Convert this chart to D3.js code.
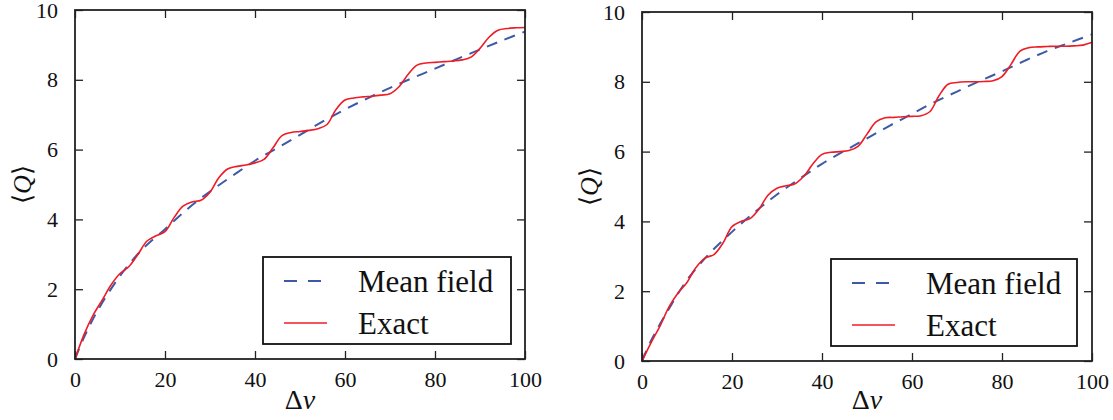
<!DOCTYPE html>
<html>
<head>
<meta charset="utf-8">
<script src="https://cdn.jsdelivr.net/npm/d3@7"></script>
<style>
  body { margin: 0; background: #fff; }
  svg { display: block; }
</style>
</head>
<body>
<div id="chart"></div>
<script>
const width = 1113;
const height = 420;
const serif = "'Liberation Serif', 'Times New Roman', serif";

// shared x grid for both panels
const dv = d3.range(0, 101, 2);

// mean field curve
const meanX = [0, 2, 5, 10, 15, 20, 25, 30, 35, 40, 45, 50, 55, 60, 65, 70, 75, 80, 85, 90, 95, 100];
const meanLeft = [0, 0.62, 1.38, 2.38, 3.15, 3.72, 4.3, 4.8, 5.25, 5.68, 6.05, 6.42, 6.8, 7.15, 7.47, 7.77, 8.05, 8.32, 8.6, 8.87, 9.13, 9.38];
const meanRight = [0, 0.58, 1.28, 2.32, 3.08, 3.7, 4.26, 4.77, 5.22, 5.65, 6.02, 6.38, 6.74, 7.08, 7.42, 7.72, 8.02, 8.3, 8.6, 8.88, 9.12, 9.36];

// exact curves, sampled at dv
const exactLeft = [0, 0.7, 1.25, 1.68, 2.12, 2.45, 2.65, 3.0, 3.38, 3.53, 3.65, 4.05, 4.38, 4.5, 4.55, 4.78, 5.2, 5.45, 5.52, 5.56, 5.62, 5.72, 6.05, 6.4, 6.49, 6.52, 6.55, 6.6, 6.72, 7.15, 7.42, 7.48, 7.51, 7.53, 7.56, 7.6, 7.8, 8.15, 8.42, 8.48, 8.5, 8.52, 8.54, 8.57, 8.65, 8.9, 9.22, 9.42, 9.47, 9.49, 9.5];
const exactRight = [0, 0.52, 1.0, 1.55, 1.95, 2.25, 2.68, 2.95, 3.05, 3.38, 3.85, 4.0, 4.08, 4.35, 4.75, 4.95, 5.02, 5.08, 5.3, 5.65, 5.92, 5.98, 6.0, 6.03, 6.15, 6.5, 6.85, 6.97, 6.98, 7.0, 7.01, 7.03, 7.15, 7.6, 7.93, 7.98, 8.0, 8.0, 8.01, 8.03, 8.15, 8.5, 8.88, 8.98, 9.0, 9.01, 9.02, 9.02, 9.03, 9.05, 9.13];

const xTicks = [0, 20, 40, 60, 80, 100];
const yTicks = [0, 2, 4, 6, 8, 10];
const legendLabels = ["Mean field", "Exact"];

const blue = "#3d5aa8";
const red = "#ee1c25";

const panels = [
    { left: 75, right: 525, top: 10, bottom: 359, mean: meanLeft, exact: exactLeft, ylab: 22, legend: { x: 263, y: 257, w: 248, h: 87 } },
    { left: 642, right: 1092, top: 12, bottom: 361, mean: meanRight, exact: exactRight, ylab: 589, legend: { x: 831, y: 259, w: 246, h: 87 } }
];

const svg = d3.select("#chart")
    .append("svg")
    .attr("width", width)
    .attr("height", height);

panels.forEach(p => {
    const x = d3.scaleLinear().domain([0, 100]).range([p.left, p.right]);
    const y = d3.scaleLinear().domain([0, 10]).range([p.bottom, p.top]);
    const g = svg.append("g");

    const line = d3.line()
        .x(d => x(d[0]))
        .y(d => y(d[1]))
        .curve(d3.curveCatmullRom.alpha(0.5));

    g.append("path")
        .datum(meanX.map((v, i) => [v, p.mean[i]]))
        .attr("d", line)
        .attr("fill", "none")
        .attr("stroke", blue)
        .attr("stroke-width", 2)
        .attr("stroke-dasharray", "11,8");

    g.append("path")
        .datum(dv.map((v, i) => [v, p.exact[i]]))
        .attr("d", line)
        .attr("fill", "none")
        .attr("stroke", red)
        .attr("stroke-width", 1.6);

    // ticks pointing inward on all four sides
    const tl = 8;
    g.append("g")
        .attr("transform", `translate(0,${p.bottom})`)
        .call(d3.axisBottom(x).tickValues(xTicks).tickSizeInner(-tl).tickSizeOuter(0).tickPadding(12))
        .call(a => a.select(".domain").remove());
    g.append("g")
        .attr("transform", `translate(0,${p.top})`)
        .call(d3.axisTop(x).tickValues(xTicks).tickSizeInner(-tl).tickSizeOuter(0).tickFormat(""))
        .call(a => a.select(".domain").remove());
    g.append("g")
        .attr("transform", `translate(${p.left},0)`)
        .call(d3.axisLeft(y).tickValues(yTicks).tickSizeInner(-tl).tickSizeOuter(0).tickPadding(17))
        .call(a => a.select(".domain").remove());
    g.append("g")
        .attr("transform", `translate(${p.right},0)`)
        .call(d3.axisRight(y).tickValues(yTicks).tickSizeInner(-tl).tickSizeOuter(0).tickFormat(""))
        .call(a => a.select(".domain").remove());

    g.selectAll(".tick line").attr("stroke", "#222").attr("stroke-width", 1.3);
    g.selectAll(".tick text")
        .style("font-family", serif)
        .style("font-size", "22px")
        .style("fill", "#111");

    g.append("rect")
        .attr("x", p.left)
        .attr("y", p.top)
        .attr("width", p.right - p.left)
        .attr("height", p.bottom - p.top)
        .attr("fill", "none")
        .attr("stroke", "#222")
        .attr("stroke-width", 1.8);

    // axis titles
    const xl = g.append("text")
        .attr("x", (p.left + p.right) / 2)
        .attr("y", 409)
        .attr("text-anchor", "middle")
        .style("font-family", serif)
        .style("font-size", "28px")
        .style("fill", "#111");
    xl.append("tspan").text("Δ");
    xl.append("tspan").style("font-style", "italic").text("v");

    const yl = g.append("text")
        .attr("transform", `translate(${p.ylab},${(p.top + p.bottom) / 2}) rotate(-90)`)
        .attr("text-anchor", "middle")
        .attr("dy", "0.35em")
        .style("font-family", serif)
        .style("font-size", "26px")
        .style("fill", "#111");
    yl.append("tspan").text("⟨");
    yl.append("tspan").style("font-style", "italic").text("Q");
    yl.append("tspan").text("⟩");

    // legend
    const L = p.legend;
    const lg = g.append("g");
    lg.append("rect")
        .attr("x", L.x).attr("y", L.y)
        .attr("width", L.w).attr("height", L.h)
        .attr("fill", "#fff")
        .attr("stroke", "#111")
        .attr("stroke-width", 1.8);
    const rows = [
        { label: legendLabels[0], color: blue, dash: "13,11", w: 2, dy: 24 },
        { label: legendLabels[1], color: red, dash: null, w: 1.6, dy: 66 }
    ];
    rows.forEach(r => {
        lg.append("line")
            .attr("x1", L.x + 21).attr("x2", L.x + 64)
            .attr("y1", L.y + r.dy).attr("y2", L.y + r.dy)
            .attr("stroke", r.color)
            .attr("stroke-width", r.w)
            .attr("stroke-dasharray", r.dash);
        lg.append("text")
            .attr("x", L.x + 95)
            .attr("y", L.y + r.dy)
            .attr("dy", "0.35em")
            .style("font-family", serif)
            .style("font-size", "31px")
            .style("fill", "#111")
            .text(r.label);
    });
});
</script>
</body>
</html>
